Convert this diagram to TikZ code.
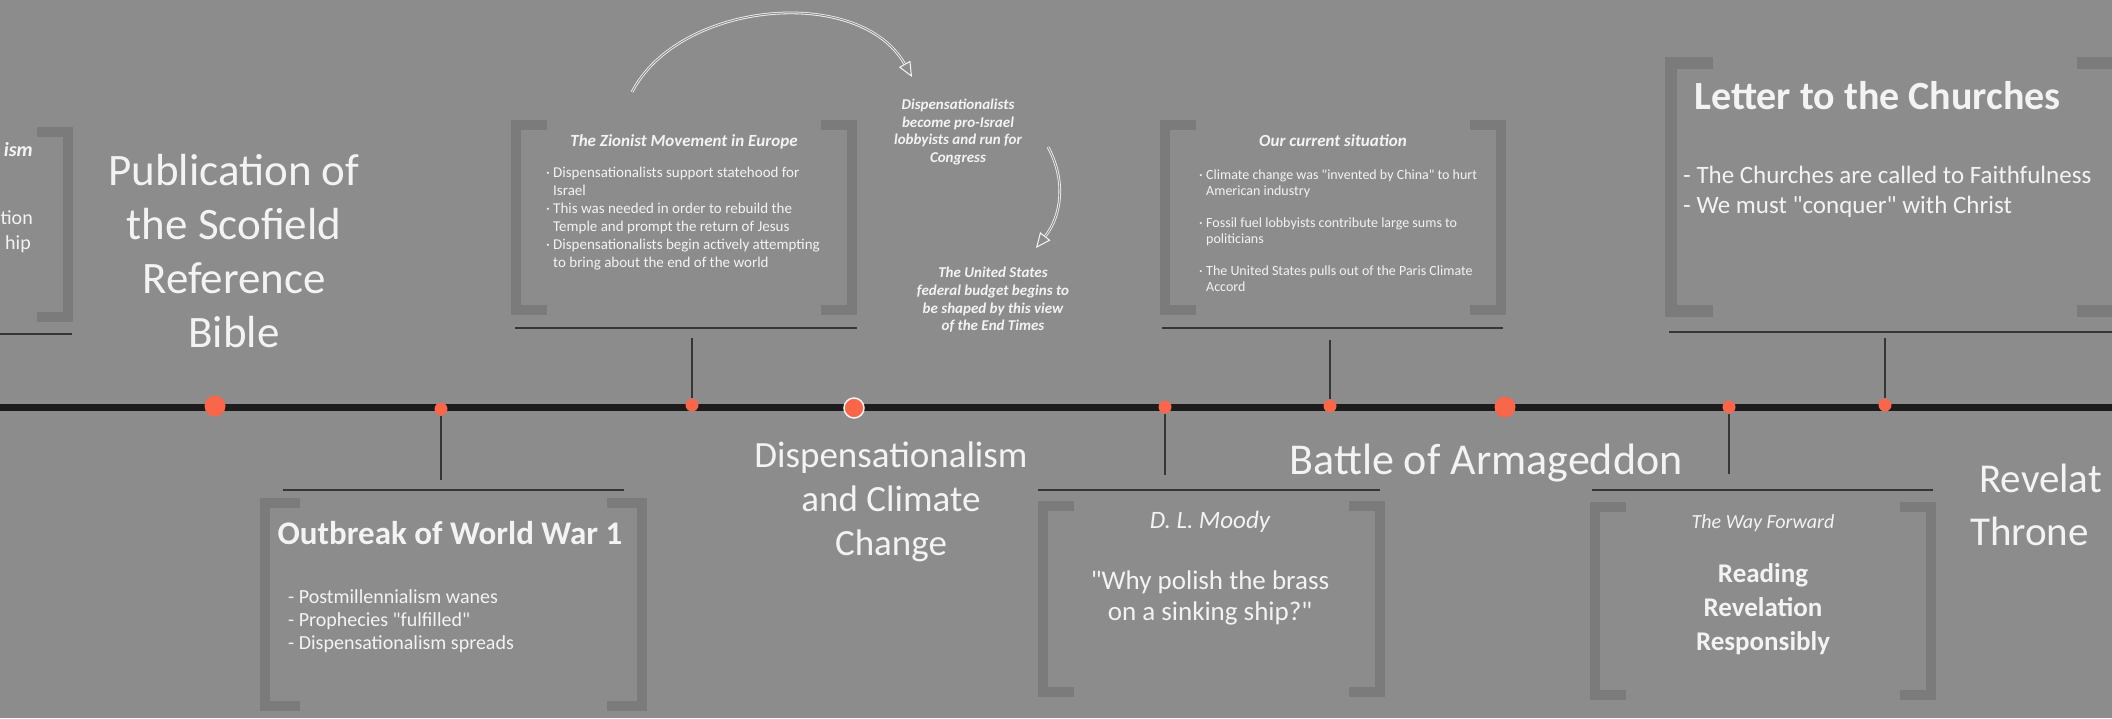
\documentclass[tikz,border=0pt]{standalone}
\usepackage{fontspec}
\setmainfont{Carlito}[Ligatures=TeXOff]
\usetikzlibrary{arrows.meta}
\definecolor{bg}{HTML}{8C8C8C}
\definecolor{brk}{HTML}{7B7B7B}
\definecolor{txt}{HTML}{F3F3F3}
\definecolor{tlc}{HTML}{1C1C1C}
\definecolor{dotc}{HTML}{F9664A}
\definecolor{lnc}{HTML}{363636}
\newcommand\fsz[2]{\fontsize{#1}{#2}\selectfont}
\newcommand\bul{\makebox[7pt][l]{·}}
\newcommand\bcont{\hspace*{7pt}}
\newcommand\drawbrackets[2]{%
  \draw[brkt] ([xshift=#2]#1.north west) -- (#1.north west) -- (#1.south west) -- ([xshift=#2]#1.south west);
  \draw[brkt] ([xshift=-#2]#1.north east) -- (#1.north east) -- (#1.south east) -- ([xshift=-#2]#1.south east);}
\begin{document}
\begin{tikzpicture}[x=1pt,y=-1pt,
  frame/.style={rectangle,draw=none,inner sep=0pt,outer sep=0pt},
  brkt/.style={draw=brk,line width=10pt,line join=miter},
  hbar/.style={draw=lnc,line width=2pt},
  conn/.style={draw=lnc,line width=1.3pt},
  tline/.style={draw=tlc,line width=7pt},
  dotsmall/.style={circle,fill=dotc,minimum size=13pt,inner sep=0pt},
  dotbig/.style={circle,fill=dotc,minimum size=21pt,inner sep=0pt},
  txtn/.style={text=txt,inner sep=0pt,align=center},
  txtl/.style={text=txt,inner sep=0pt,align=left},
  arrshaft/.style={draw=white!92!bg,line width=2.6pt},
  arrinner/.style={draw=bg,line width=1pt},
]
\fill[bg] (0,0) rectangle (2112,718);
\useasboundingbox (0,0) rectangle (2112,718);

% timeline
\coordinate (tll) at (-5,407);
\coordinate (tlr) at (2117,407);
\draw[tline] (tll) -- (tlr);

% bracket frames
\node[frame,minimum width=348pt,minimum height=185pt] (lp) at (-106,224.5) {};
\node[frame,minimum width=336pt,minimum height=185pt] (zf) at (684,217.5) {};
\node[frame,minimum width=336pt,minimum height=185pt] (of) at (1333,217.5) {};
\node[frame,minimum width=377pt,minimum height=203pt] (wf) at (453.5,604.5) {};
\node[frame,minimum width=337pt,minimum height=186pt] (mf) at (1211.5,599) {};
\node[frame,minimum width=336pt,minimum height=188pt] (ff) at (1763,601) {};
\node[frame,minimum width=475pt,minimum height=248pt] (lf) at (1908.5,187) {};
\drawbrackets{lp}{31pt}
\drawbrackets{zf}{31pt}
\drawbrackets{of}{31pt}
\drawbrackets{wf}{35pt}
\drawbrackets{mf}{31pt}
\drawbrackets{ff}{31pt}
\begin{scope}[brkt/.append style={line width=12pt}]
\draw[brkt] ([xshift=42pt]lf.north west) -- (lf.north west) -- (lf.south west) -- ([xshift=42pt]lf.south west);
\draw[brkt] ([xshift=-69pt]lf.north east) -- (lf.north east) -- (lf.south east) -- ([xshift=-69pt]lf.south east);
\end{scope}

% bars under/over frames
\draw[hbar] (-5,334) -- (72,334);
\draw[hbar] (515,328) -- (857,328);
\draw[hbar] (1162,328) -- (1503,328);
\draw[hbar] (1669,332) -- (2117,332);
\draw[hbar] (283,490) -- (624,490);
\draw[hbar] (1038,490) -- (1380,490);
\draw[hbar] (1592,490) -- (1933,490);

% dots
\node[dotbig] (d1) at (215,406) {};
\node[dotsmall] (d2) at (441,409) {};
\node[dotsmall] (d3) at (692,405) {};
\node[dotbig,draw=white!90!bg,line width=1.5pt,minimum size=20pt] (d4) at (854,408) {};
\node[dotsmall] (d5) at (1165,407) {};
\node[dotsmall] (d6) at (1330,406) {};
\node[dotbig] (d7) at (1505,407) {};
\node[dotsmall] (d8) at (1729,407) {};
\node[dotsmall] (d9) at (1885,405) {};

% connectors
\coordinate (c2) at (441,480);
\coordinate (c3) at (692,338);
\coordinate (c5) at (1165,475);
\coordinate (c6) at (1330,340);
\coordinate (c8) at (1729,474);
\coordinate (c9) at (1885,338);
\draw[conn] (d2) -- (c2);
\draw[conn] (c3) -- (d3);
\draw[conn] (d5) -- (c5);
\draw[conn] (c6) -- (d6);
\draw[conn] (d8) -- (c8);
\draw[conn] (c9) -- (d9);

% partial left texts
\node[txtl,anchor=east,font=\fsz{20}{24}\bfseries\itshape] (p1) at (33,150) {ism};
\node[txtl,anchor=east,font=\fsz{20}{24}] (p2) at (33,218) {tion};
\node[txtl,anchor=east,font=\fsz{20}{24}] (p3) at (31,244) {hip};

% big titles
\node[txtn,font=\fsz{45}{54}] (pub) at (234,251) {Publication of\\the Scofield\\Reference\\Bible};
\node[txtn,font=\fsz{37}{44}] (dcc) at (891,502) {Dispensationalism\\and Climate\\Change};
\node[txtn,font=\fsz{44}{50}] (bat) at (1486,463) {Battle of Armageddon};
\node[txtl,anchor=west,font=\fsz{41}{48}] (rv1) at (1979,478) {Revelat};
\node[txtl,anchor=west,font=\fsz{41}{48}] (rv2) at (1970,531) {Throne};

% Zionist box
\node[txtn,font=\fsz{17}{20}\bfseries\itshape] (zt) at (684,142) {The Zionist Movement in Europe};
\node[txtl,anchor=north west,font=\fsz{15}{18}] (zb) at (546,167) {%
\bul Dispensationalists support statehood for\\
\bcont Israel\\
\bul This was needed in order to rebuild the\\
\bcont Temple and prompt the return of Jesus\\
\bul Dispensationalists begin actively attempting\\
\bcont to bring about the end of the world};

% lobby texts
\node[txtn,font=\fsz{15}{17.7}\bfseries\itshape] (lob) at (958,132) {Dispensationalists\\become pro-Israel\\lobbyists and run for\\Congress};
\node[txtn,font=\fsz{15}{17.7}\bfseries\itshape] (bud) at (993,300) {The United States\\federal budget begins to\\be shaped by this view\\of the End Times};

% arrows
\coordinate (a1s) at (632,92);
\coordinate (a1e) at (912,77);
\coordinate (a2s) at (1048,147);
\coordinate (a2e) at (1036,248);
\draw[arrshaft,-{Triangle[length=15pt,width=13pt,fill=bg,line width=1pt]}] (a1s) .. controls (680,0) and (860,-15) .. (a1e);
\draw[arrinner,shorten >=15pt] (a1s) .. controls (680,0) and (860,-15) .. (a1e);
\draw[arrshaft,-{Triangle[length=15pt,width=13pt,fill=bg,line width=1pt]}] (a2s) .. controls (1066,180) and (1062,215) .. (a2e);
\draw[arrinner,shorten >=15pt] (a2s) .. controls (1066,180) and (1062,215) .. (a2e);

% Our current situation
\node[txtn,font=\fsz{17}{20}\bfseries\itshape] (ot) at (1333,141) {Our current situation};
\node[txtl,anchor=north west,font=\fsz{14}{16}] (ob) at (1199,170) {%
\bul Climate change was "invented by China" to hurt\\
\bcont American industry\\[16pt]
\bul Fossil fuel lobbyists contribute large sums to\\
\bcont politicians\\[16pt]
\bul The United States pulls out of the Paris Climate\\
\bcont Accord};

% Letter to the Churches
\node[txtl,anchor=west,font=\fsz{40}{44}\bfseries] (lt) at (1694,96) {Letter to the Churches};
\node[txtl,anchor=north west,font=\fsz{25}{30}] (lb) at (1683,166) {- The Churches are called to Faithfulness\\- We must "conquer" with Christ};

% Outbreak
\node[txtn,font=\fsz{33}{40}\bfseries] (wt) at (450,533) {Outbreak of World War 1};
\node[txtl,anchor=north west,font=\fsz{20}{23}] (wb) at (288,589) {- Postmillennialism wanes\\- Prophecies "fulfilled"\\- Dispensationalism spreads};

% Moody
\node[txtn,font=\fsz{25}{28}\itshape] (mt) at (1210,522) {D. L. Moody};
\node[txtn,font=\fsz{27}{31}] (mq) at (1210,598) {"Why polish the brass\\on a sinking ship?"};

% Way forward
\node[txtn,font=\fsz{20}{24}\itshape] (ft) at (1763,523) {The Way Forward};
\node[txtn,font=\fsz{27}{34}\bfseries] (fq) at (1763,609) {Reading\\Revelation\\Responsibly};
\end{tikzpicture}
\end{document}
